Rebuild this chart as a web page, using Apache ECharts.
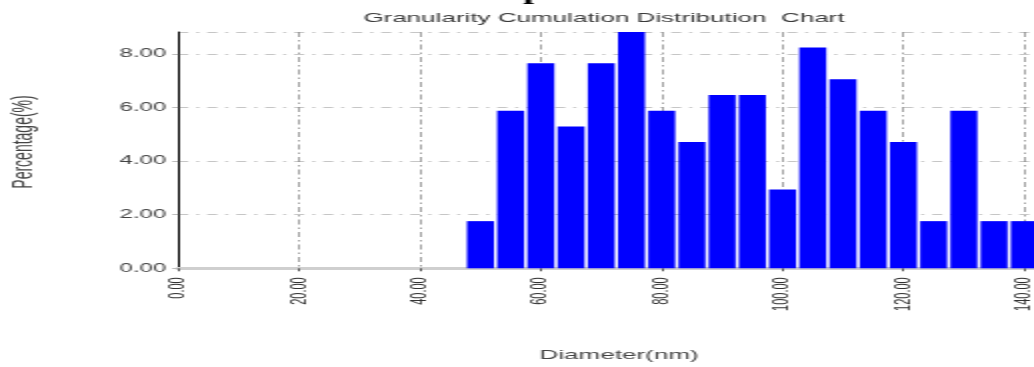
<!DOCTYPE html>
<html>
<head>
<meta charset="utf-8">
<script src="https://cdn.jsdelivr.net/npm/echarts@6/dist/echarts.min.js"></script>
<style>
  html, body { margin: 0; padding: 0; background: #fff; overflow: hidden; }
  /* the chart is laid out at half width and widened 2x horizontally */
  #chart { width: 517px; height: 367px; transform: scaleX(2); transform-origin: 0 0; }
</style>
</head>
<body>
<div id="chart"></div>
<script>
// particle diameter classes (nm) and their share of the particle count (%)
const diameters = [50, 55, 60, 65, 70, 75, 80, 85, 90, 95, 100, 105, 110, 115, 120, 125, 130, 135, 140];
const percentages = [1.76, 5.88, 7.65, 5.29, 7.65, 8.82, 5.88, 4.71, 6.47, 6.47, 2.94, 8.24, 7.06, 5.88, 4.71, 1.76, 5.88, 1.76, 1.76];

// tick labels shown on the axes
const xTickValues = [0, 20, 40, 60, 80, 100, 120, 140];
const yTickValues = [0, 2, 4, 6, 8];

const headline = 'Nanoparticles';
const chartTitle = 'Granularity Cumulation Distribution  Chart';
const xName = 'Diameter(nm)';
const yName = 'Percentage(%)';

const sans = '"Liberation Sans", Arial, sans-serif';

const chart = echarts.init(document.getElementById('chart'), null, { renderer: 'canvas' });

chart.setOption({
  animation: false,
  backgroundColor: '#ffffff',
  grid: { left: 89.15, top: 32, right: 0, bottom: 98.7, containLabel: false, outerBoundsMode: 'none' },
  graphic: [
    {
      type: 'text', x: 216, y: 4, silent: true,
      style: { text: headline, font: 'bold 20px "Liberation Serif", "Times New Roman", serif', fill: '#000', align: 'left', verticalAlign: 'bottom' }
    },
    {
      type: 'text', x: 302, y: 12, silent: true,
      style: { text: chartTitle, font: '13px ' + sans, fill: '#3a3a3a', align: 'center', verticalAlign: 'top' }
    },
    {
      type: 'text', x: 12, y: 142, rotation: Math.PI / 2, silent: true,
      style: { text: yName, font: '14px ' + sans, fill: '#444', align: 'center', verticalAlign: 'middle' }
    }
  ],
  xAxis: {
    type: 'value',
    min: 0,
    max: 141.6,
    interval: 20,
    name: xName,
    nameLocation: 'middle',
    nameGap: 81,
    nameTextStyle: { fontFamily: sans, fontSize: 13, color: '#444', padding: [0, 0, 0, 13] },
    axisLine: { show: true, onZero: false, lineStyle: { color: '#cfcfcf', width: 3 } },
    axisTick: { show: true, length: 3, lineStyle: { color: '#555', width: 1 } },
    axisLabel: {
      rotate: 90,
      margin: 9,
      fontFamily: sans,
      fontSize: 11,
      color: '#333',
      showMaxLabel: false,
      formatter: v => (xTickValues.includes(v) ? v.toFixed(2) : '')
    },
    splitLine: { show: true, lineStyle: { color: '#8c8c8c', width: 0.8, type: [5, 3, 1.5, 3] } }
  },
  yAxis: {
    type: 'value',
    min: 0,
    max: 8.82,
    interval: 2,
    axisLine: { show: true, lineStyle: { color: '#000', width: 1 } },
    axisTick: { show: true, length: 3, lineStyle: { color: '#bbb', width: 1 } },
    axisLabel: {
      margin: 6,
      fontFamily: sans,
      fontSize: 12,
      color: '#444',
      showMaxLabel: false,
      formatter: v => (yTickValues.includes(v) ? v.toFixed(2) : '')
    },
    splitLine: { show: true, lineStyle: { color: '#c6c6c6', width: 1, type: [5, 4, 1.5, 4] } }
  },
  series: [
    {
      type: 'bar',
      data: diameters.map((d, i) => [d, percentages[i]]),
      barWidth: 13.5,
      itemStyle: { color: '#0000ff' }
    }
  ]
});
</script>
</body>
</html>
